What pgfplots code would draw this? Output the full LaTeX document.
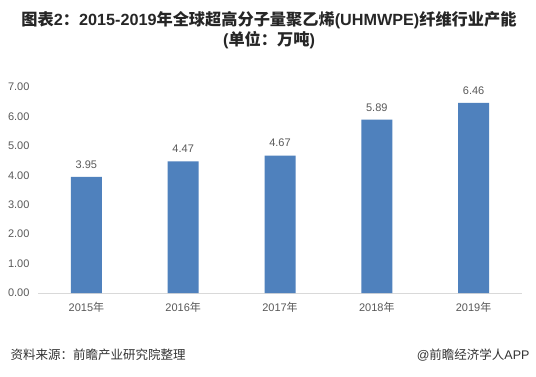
\documentclass[border=0pt]{standalone}
\usepackage{fontspec}
\setmainfont{Liberation Sans}
\newfontfamily\cjk{Noto Sans CJK SC}
\usepackage{pgfplots}
\pgfplotsset{compat=1.18}
\definecolor{barblue}{HTML}{4F81BD}
\definecolor{tickgray}{HTML}{595959}
\definecolor{titlegray}{HTML}{262626}
\definecolor{srcgray}{HTML}{333333}
\begin{document}
\begin{tikzpicture}[x=1bp,y=1bp]
\path[use as bounding box] (0,0) rectangle (536,376);
\fill[white] (0,0) rectangle (536,376);
\node[anchor=center,text=titlegray,font=\fontsize{16.2bp}{19bp}\selectfont\bfseries] at (269,356)
 {{\cjk 图表}2{\cjk ：}2015-2019{\cjk 年全球超高分子量聚乙烯}(UHMWPE){\cjk 纤维行业产能}};
\node[anchor=center,text=titlegray,font=\fontsize{16.2bp}{19bp}\selectfont\bfseries] at (269,336)
 {({\cjk 单位：万吨})};
\begin{axis}[
  at={(38bp,83bp)}, anchor=south west,
  scale only axis, width=484bp, height=206bp,
  xmin=-0.5, xmax=4.5, ymin=0, ymax=7,
  ytick={0,1,2,3,4,5,6,7},
  xtick=data,
  xticklabels={2015{\cjk 年},2016{\cjk 年},2017{\cjk 年},2018{\cjk 年},2019{\cjk 年}},
  axis x line*=bottom, axis y line*=left,
  x axis line style={draw=black!15, line width=0.8bp, -},
  y axis line style={draw=none},
  major tick length=0pt,
  tick style={draw=none},
  yticklabel style={/pgf/number format/.cd, fixed, fixed zerofill, precision=2, /tikz/.cd,
     font=\fontsize{11bp}{13bp}\selectfont, text=tickgray, xshift=-5bp},
  /pgf/number format/assume math mode=true,
  xticklabel style={font=\fontsize{11bp}{13bp}\selectfont, text=tickgray, yshift=-6bp},
  ybar, bar width=31bp,
  nodes near coords,
  nodes near coords style={/pgf/number format/.cd, fixed, fixed zerofill, precision=2, /tikz/.cd,
     font=\fontsize{11bp}{13bp}\selectfont, text=tickgray, yshift=5bp},
  clip=false,
]
\addplot[fill=barblue, draw=none] coordinates {(0,3.95) (1,4.47) (2,4.67) (3,5.89) (4,6.46)};
\end{axis}
\node[anchor=west,text=srcgray,font=\fontsize{12.5bp}{15bp}\selectfont\cjk] at (7,21) {资料来源：前瞻产业研究院整理};
\node[anchor=east,text=srcgray,font=\fontsize{12.5bp}{15bp}\selectfont] at (533,21) {@{\cjk 前瞻经济学人}APP};
\end{tikzpicture}
\end{document}
